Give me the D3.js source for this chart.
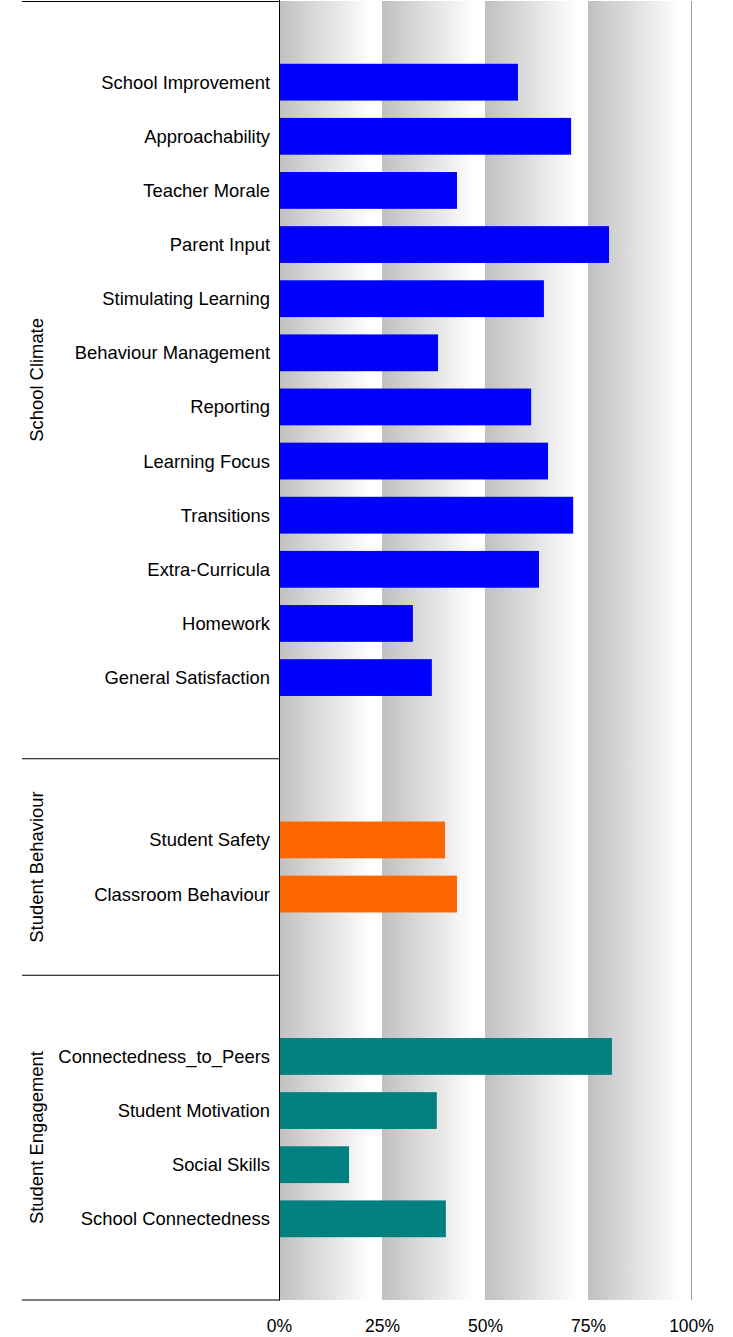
<!DOCTYPE html>
<html>
<head>
<meta charset="utf-8">
<script src="https://cdn.jsdelivr.net/npm/d3@7"></script>
<style>
  html, body { margin: 0; padding: 0; background: #fff; }
  svg { display: block; }
  text { font-family: Arial, "Liberation Sans", sans-serif; fill: #000; }
</style>
</head>
<body>
<script>
// ---- Data ----
const groups = ["School Climate", "Student Behaviour", "Student Engagement"];
const groupColors = ["#0000ff", "#ff6600", "#008080"];

const climateCategories = ["School Improvement", "Approachability", "Teacher Morale", "Parent Input",
  "Stimulating Learning", "Behaviour Management", "Reporting", "Learning Focus", "Transitions",
  "Extra-Curricula", "Homework", "General Satisfaction"];
const climateValues = [0.580, 0.709, 0.432, 0.801, 0.643, 0.386, 0.612, 0.653, 0.714, 0.631, 0.325, 0.371];

const behaviourCategories = ["Student Safety", "Classroom Behaviour"];
const behaviourValues = [0.403, 0.432];

const engagementCategories = ["Connectedness_to_Peers", "Student Motivation", "Social Skills", "School Connectedness"];
const engagementValues = [0.808, 0.383, 0.170, 0.405];

const tickValues = [0, 0.25, 0.5, 0.75, 1];
const tickLabels = ["0%", "25%", "50%", "75%", "100%"];

// ---- Build rows (each group padded with one empty slot before and after) ----
const groupCats = [climateCategories, behaviourCategories, engagementCategories];
const groupVals = [climateValues, behaviourValues, engagementValues];
const rows = [];
const groupSpans = [];
groupCats.forEach((cats, gi) => {
  const start = rows.length;
  rows.push({ key: "gap-start-" + gi, gap: true });
  cats.forEach((c, i) => rows.push({ key: c, label: c, value: groupVals[gi][i], group: gi }));
  rows.push({ key: "gap-end-" + gi, gap: true });
  groupSpans.push({ name: groups[gi], first: rows[start].key, last: rows[rows.length - 1].key });
});

// ---- Layout ----
const W = 733, H = 1337;
const plotLeft = 279, plotRight = 691, plotTop = 1, plotBottom = 1300;
const leftLineStart = 22;

const svg = d3.select("body").append("svg").attr("width", W).attr("height", H);

const x = d3.scaleLinear().domain([0, 1]).range([plotLeft, plotRight]);
const y = d3.scaleBand().domain(rows.map(r => r.key)).range([plotTop, plotBottom])
  .paddingInner(0.32).paddingOuter(0.16);
const step = y.step();
const slotTopOf = k => plotTop + rows.findIndex(r => r.key === k) * step;

// gradient for bands
const defs = svg.append("defs");
const grad = defs.append("linearGradient").attr("id", "bandGrad")
  .attr("x1", "0%").attr("x2", "100%").attr("y1", "0%").attr("y2", "0%");
grad.append("stop").attr("offset", "0%").attr("stop-color", "#c0c0c0");
grad.append("stop").attr("offset", "90%").attr("stop-color", "#ffffff");
grad.append("stop").attr("offset", "100%").attr("stop-color", "#ffffff");

// background bands
svg.append("g").selectAll("rect").data(tickValues.slice(0, -1)).join("rect")
  .attr("x", d => x(d))
  .attr("y", plotTop)
  .attr("width", d => x(d + 0.25) - x(d))
  .attr("height", plotBottom - plotTop)
  .attr("fill", "url(#bandGrad)");

// right border
svg.append("line")
  .attr("x1", x(1) + 0.5).attr("x2", x(1) + 0.5)
  .attr("y1", plotTop).attr("y2", plotBottom)
  .attr("stroke", "#a0a0a0").attr("stroke-width", 1);

// bars
const dataRows = rows.filter(r => !r.gap);
svg.append("g").selectAll("rect").data(dataRows).join("rect")
  .attr("x", x(0))
  .attr("y", d => y(d.key))
  .attr("width", d => x(d.value) - x(0))
  .attr("height", y.bandwidth())
  .attr("fill", d => groupColors[d.group]);

// category labels
svg.append("g").selectAll("text").data(dataRows).join("text")
  .attr("x", x(0) - 9)
  .attr("y", d => y(d.key) + y.bandwidth() / 2)
  .attr("dy", "0.35em")
  .attr("text-anchor", "end")
  .attr("font-size", 18.4)
  .text(d => d.label);

// left axis line
svg.append("line")
  .attr("x1", x(0) + 0.5).attr("x2", x(0) + 0.5)
  .attr("y1", 0).attr("y2", plotBottom + 0.5)
  .attr("stroke", "#000").attr("stroke-width", 1);

// group separators (top, between groups, bottom)
const sepYs = [plotTop + 0.5];
groupSpans.forEach(g => sepYs.push(slotTopOf(g.last) + step));
svg.append("g").selectAll("line").data(sepYs).join("line")
  .attr("x1", leftLineStart).attr("x2", x(0) + 1)
  .attr("y1", d => d).attr("y2", d => d)
  .attr("stroke", "#000").attr("stroke-width", 1);

// group labels (rotated)
svg.append("g").selectAll("text").data(groupSpans).join("text")
  .attr("transform", g => {
    const top = slotTopOf(g.first), bot = slotTopOf(g.last) + step;
    return `translate(37,${(top + bot) / 2}) rotate(-90)`;
  })
  .attr("dy", "0.35em")
  .attr("text-anchor", "middle")
  .attr("font-size", 18.4)
  .text(g => g.name);

// x axis tick labels
const xAxis = d3.axisBottom(x).tickValues(tickValues)
  .tickFormat((d, i) => tickLabels[i]).tickSize(0).tickPadding(0);
const ax = svg.append("g").attr("transform", `translate(0,${plotBottom + 20})`).call(xAxis);
ax.select(".domain").remove();
ax.selectAll("text").attr("font-size", 17.5)
  .attr("font-family", "Arial, 'Liberation Sans', sans-serif").attr("fill", "#000");
</script>
</body>
</html>
